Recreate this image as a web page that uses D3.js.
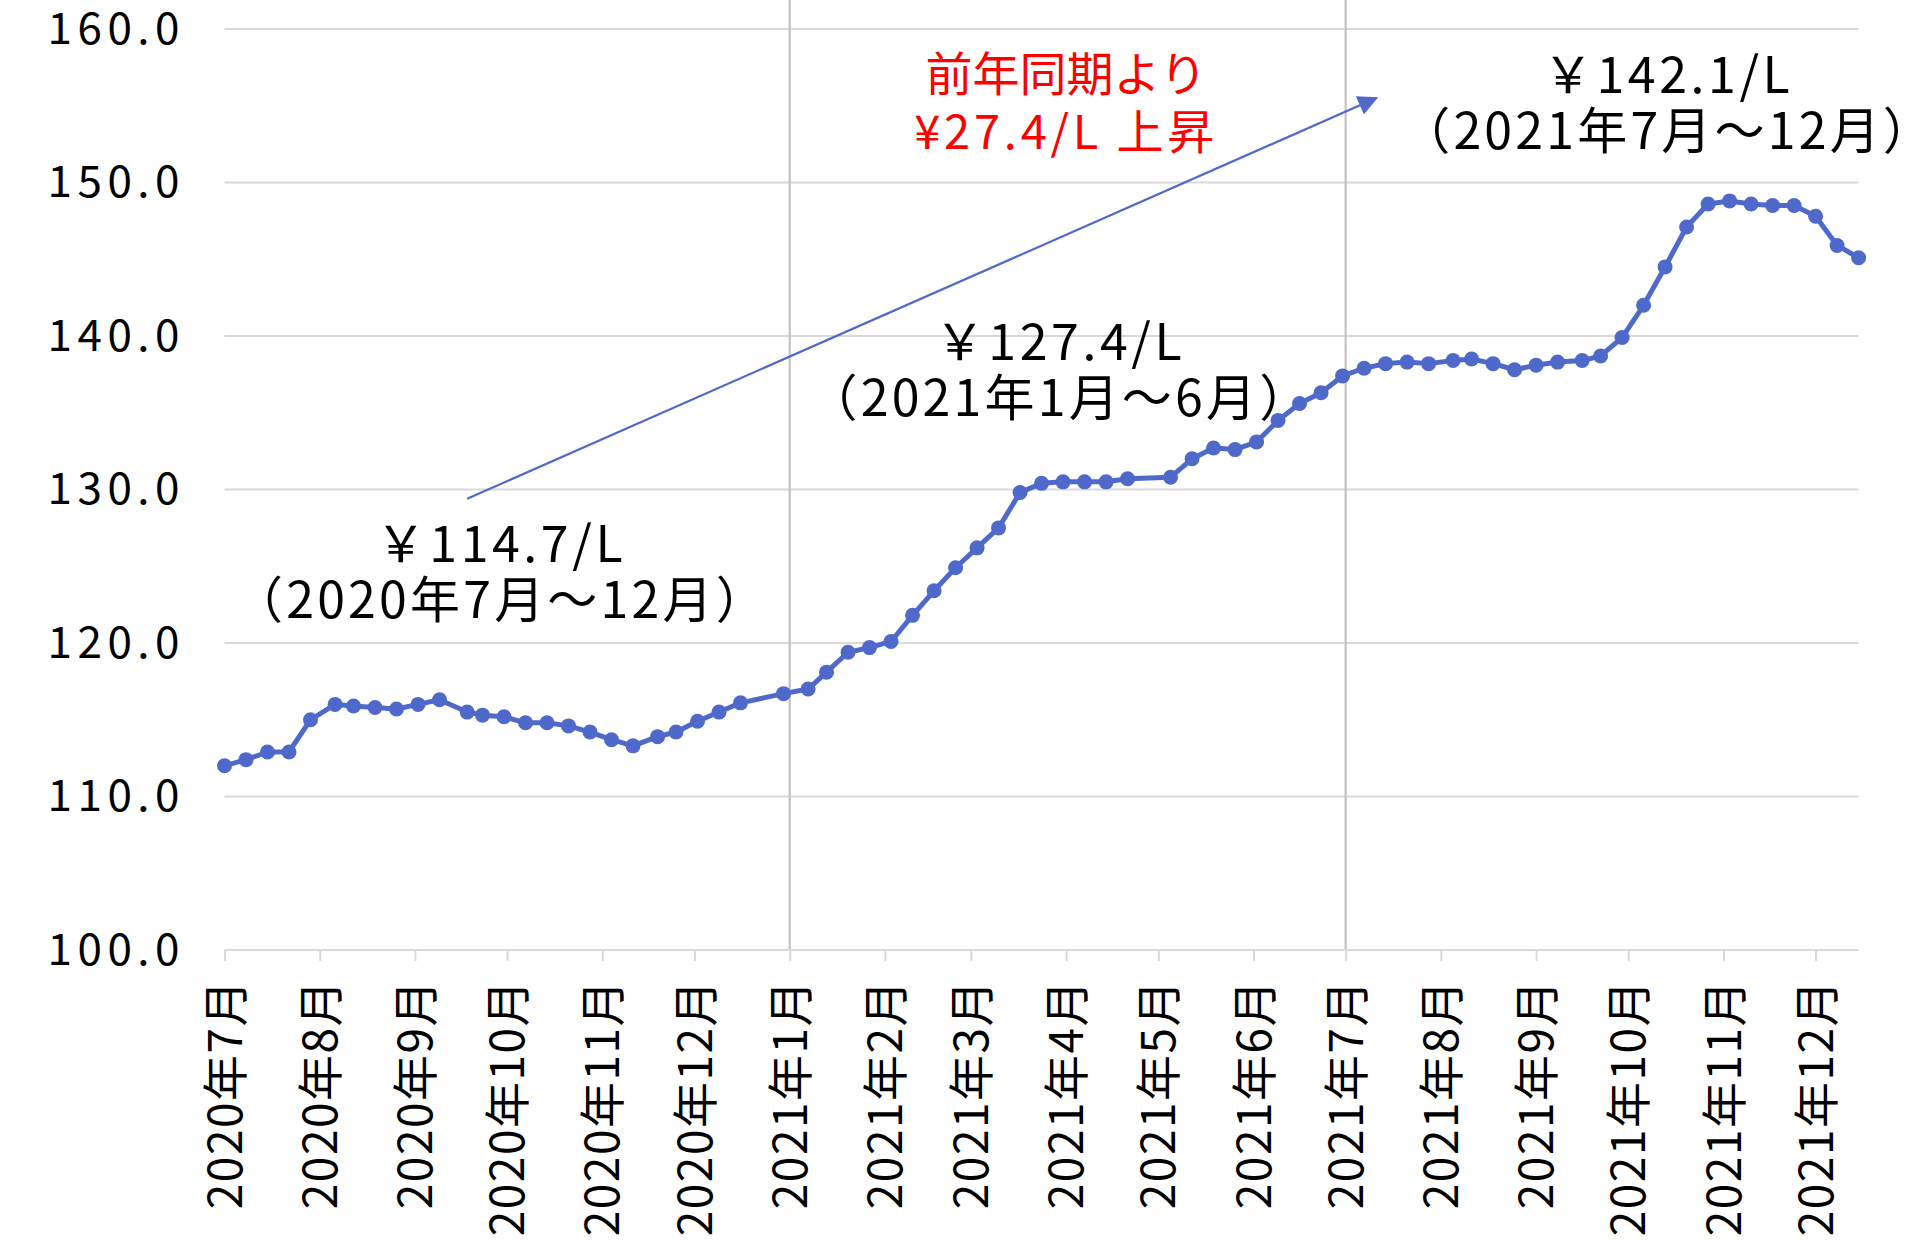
<!DOCTYPE html>
<html><head><meta charset="utf-8">
<script src="https://cdn.jsdelivr.net/npm/d3@7"></script>
<style>
body{margin:0;background:#fff;}
text{font-family:"Noto Sans CJK JP","Noto Sans",sans-serif;}
</style>
</head><body>
<svg id="chart" width="1923" height="1241"></svg>
<script>
// ---- data ----
const surveyDates = [
"2020-07-06","2020-07-13","2020-07-20","2020-07-27","2020-08-03","2020-08-11","2020-08-17","2020-08-24","2020-08-31",
"2020-09-07","2020-09-14","2020-09-23","2020-09-28","2020-10-05","2020-10-12","2020-10-19","2020-10-26",
"2020-11-02","2020-11-09","2020-11-16","2020-11-24","2020-11-30","2020-12-07","2020-12-14","2020-12-21",
"2021-01-04","2021-01-12","2021-01-18","2021-01-25","2021-02-01","2021-02-08","2021-02-15","2021-02-22",
"2021-03-01","2021-03-08","2021-03-15","2021-03-22","2021-03-29","2021-04-05","2021-04-12","2021-04-19","2021-04-26",
"2021-05-10","2021-05-17","2021-05-24","2021-05-31","2021-06-07","2021-06-14","2021-06-21","2021-06-28",
"2021-07-05","2021-07-12","2021-07-19","2021-07-26","2021-08-02","2021-08-10","2021-08-16","2021-08-23","2021-08-30",
"2021-09-06","2021-09-13","2021-09-21","2021-09-27","2021-10-04","2021-10-11","2021-10-18","2021-10-25",
"2021-11-01","2021-11-08","2021-11-15","2021-11-22","2021-11-29","2021-12-06","2021-12-13","2021-12-20"];
const prices = [
112.0,112.4,112.9,112.9,115.0,116.0,115.9,115.8,115.7,
116.0,116.3,115.5,115.3,115.2,114.8,114.8,114.6,
114.2,113.7,113.3,113.9,114.2,114.9,115.5,116.1,
116.7,117.0,118.1,119.4,119.7,120.1,121.8,123.4,
124.9,126.2,127.5,129.8,130.4,130.5,130.5,130.5,130.7,
130.8,132.0,132.7,132.6,133.1,134.5,135.6,136.3,
137.4,137.9,138.2,138.3,138.2,138.4,138.5,138.2,137.8,
138.1,138.3,138.4,138.7,139.9,142.0,144.5,147.1,
148.6,148.8,148.6,148.5,148.5,147.8,145.9,145.1];
const yTickValues = [100,110,120,130,140,150,160];
const xTickDates = ["2020-07-06","2020-08-06","2020-09-06","2020-10-06","2020-11-06","2020-12-06",
"2021-01-06","2021-02-06","2021-03-06","2021-04-06","2021-05-06","2021-06-06",
"2021-07-06","2021-08-06","2021-09-06","2021-10-06","2021-11-06","2021-12-06"];
const xTickLabels = ["2020年7月","2020年8月","2020年9月","2020年10月","2020年11月","2020年12月",
"2021年1月","2021年2月","2021年3月","2021年4月","2021年5月","2021年6月",
"2021年7月","2021年8月","2021年9月","2021年10月","2021年11月","2021年12月"];
const dividerDates = ["2021-01-06","2021-07-06"];
const periodLabels = ["￥114.7/L","￥127.4/L","￥142.1/L"];
const periodRanges = ["（2020年7月～12月）","（2021年1月～6月）","（2021年7月～12月）"];
const periodAnchorDates = ["2020-10-04","2021-04-04","2021-10-19"];
const periodAnchorValues = [125.3,138.45,155.85];
const noteLines = ["前年同期より","¥27.4/L 上昇"];
const noteAnchorDate = "2021-04-06";
const noteAnchorValue = 155.95;
const arrowFrom = {date:"2020-09-23", value:129.4};
const arrowTo = {date:"2021-07-16", value:155.5};

// ---- setup ----
const parse = d3.timeParse("%Y-%m-%d");
const data = surveyDates.map((d,i)=>({date:parse(d), value:prices[i]}));
const W=1923, H=1241;
const x0=224.5, x1=1858.6, yTop=29, yBot=950;
const blue="#4F69CB";
const FONT='"Noto Sans CJK JP","Noto Sans",sans-serif';

const svg = d3.select("#chart");
svg.append("rect").attr("width",W).attr("height",H).attr("fill","#fff");

const x = d3.scaleTime().domain([data[0].date, data[data.length-1].date]).range([x0,x1]);
const y = d3.scaleLinear().domain([100,160]).range([yBot,yTop]);

// gridlines
svg.append("g").selectAll("line").data(yTickValues.filter(v=>v>100)).join("line")
  .attr("x1",x0).attr("x2",x1).attr("y1",d=>y(d)).attr("y2",d=>y(d))
  .attr("stroke","#d9d9d9").attr("stroke-width",2);

// divider lines
svg.append("g").selectAll("line").data(dividerDates).join("line")
  .attr("x1",d=>x(parse(d))).attr("x2",d=>x(parse(d)))
  .attr("y1",0).attr("y2",yBot)
  .attr("stroke","#c3c3c3").attr("stroke-width",2.2);

// y axis labels
const yAxis = d3.axisLeft(y).tickValues(yTickValues).tickFormat(d3.format(".1f")).tickSize(0).tickPadding(0);
const gy = svg.append("g").attr("transform",`translate(185,0)`).call(yAxis);
gy.select(".domain").remove();
gy.selectAll("text").attr("font-size",44).attr("fill","#000")
  .attr("font-family",FONT).attr("letter-spacing","5.5px");

// x axis
const xTicks = xTickDates.map(parse);
const xAxis = d3.axisBottom(x).tickValues(xTicks).tickSize(11).tickFormat((d,i)=>xTickLabels[i]);
const gx = svg.append("g").attr("transform",`translate(0,${yBot})`).call(xAxis);
gx.select(".domain").attr("stroke","#d9d9d9").attr("stroke-width",2.2).attr("d",`M${x0},0H${x1}`);
gx.selectAll(".tick line").attr("stroke","#d9d9d9").attr("stroke-width",2);
gx.selectAll(".tick text")
  .attr("font-size",46).attr("fill","#000")
  .attr("font-family",FONT)
  .attr("letter-spacing","1.5px")
  .attr("text-anchor","end")
  .attr("transform","rotate(-90)")
  .attr("x",-29).attr("y",0).attr("dy","0.36em");

// arrow
const defs = svg.append("defs");
defs.append("marker").attr("id","ah").attr("viewBox","0 0 10 10").attr("refX",9).attr("refY",5)
  .attr("markerWidth",24).attr("markerHeight",20).attr("markerUnits","userSpaceOnUse")
  .attr("orient","auto")
  .append("path").attr("d","M0,0L10,5L0,10Z").attr("fill",blue);
svg.append("line")
  .attr("x1",x(parse(arrowFrom.date))).attr("y1",y(arrowFrom.value))
  .attr("x2",x(parse(arrowTo.date))).attr("y2",y(arrowTo.value))
  .attr("stroke",blue).attr("stroke-width",2.2).attr("marker-end","url(#ah)");

// series line
const line = d3.line().x(d=>x(d.date)).y(d=>y(d.value));
svg.append("path").datum(data).attr("d",line).attr("fill","none")
  .attr("stroke",blue).attr("stroke-width",5).attr("stroke-linejoin","round");
svg.append("g").selectAll("circle").data(data).join("circle")
  .attr("cx",d=>x(d.date)).attr("cy",d=>y(d.value)).attr("r",7.5).attr("fill",blue);

// period annotations
const ga = svg.append("g").attr("font-size",50).attr("fill","#000").attr("text-anchor","middle");
periodLabels.forEach((t,i)=>{
  const cx = x(parse(periodAnchorDates[i])), by = y(periodAnchorValues[i]);
  ga.append("text").attr("x",cx).attr("y",by).attr("letter-spacing","3.6px").text(t);
  ga.append("text").attr("x",cx).attr("y",by+56).attr("letter-spacing","3.2px").text(periodRanges[i]);
});

// red note
const gn = svg.append("g").attr("font-size",47).attr("fill","#ff0000").attr("text-anchor","middle");
noteLines.forEach((t,i)=>{
  gn.append("text").attr("x",x(parse(noteAnchorDate))).attr("y",y(noteAnchorValue)+i*58)
    .attr("letter-spacing", i===0 ? "0px" : "3.8px").text(t);
});
</script>
</body></html>
